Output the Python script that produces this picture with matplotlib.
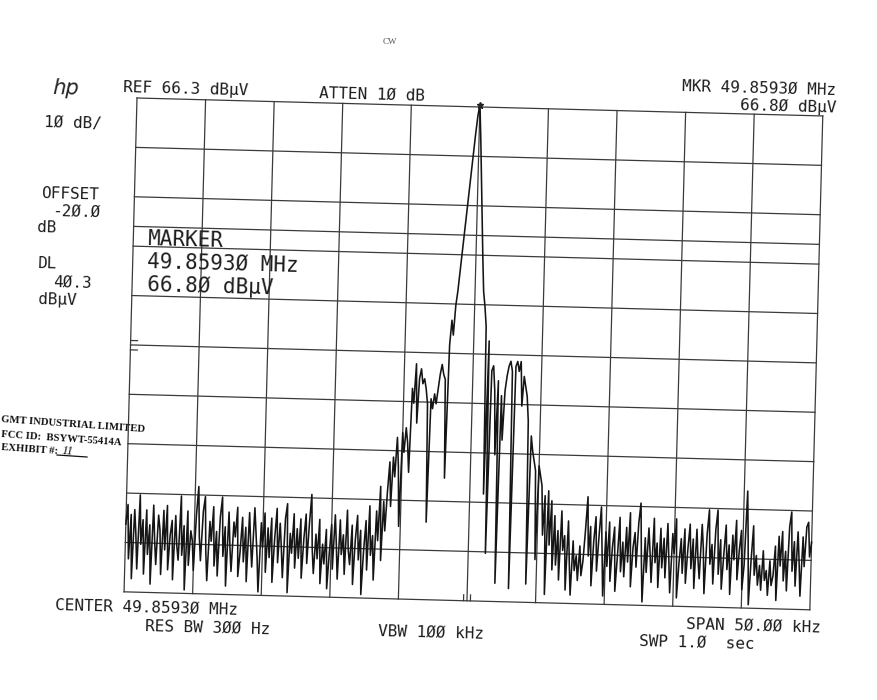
import numpy as np
import matplotlib
matplotlib.use("Agg")
import matplotlib.pyplot as plt
from matplotlib.transforms import Affine2D
from matplotlib.lines import Line2D

# ---------------- data ----------------
center_mhz = 49.85930
span_khz = 50.0
ref_level = 66.3          # dBuV (top graticule line)
db_per_div = 10.0
display_line = 40.3       # DL, dBuV
marker_freq = 49.85930
marker_level = 66.80

# 401-point sweep, offset from center in kHz (-25 ... +25)
n_points = 401
trace_dbuv = [
    -20, -16, -27, -18, -31, -17, -22, -29, -14, -24, -19, -30, -17, -26, -20, -32, -16, -23, -28, -18,
    -21, -30, -17, -25, -16, -29, -22, -19, -31, -18, -24, -27, -14, -26, -20, -33, -17, -28, -21, -23,
    -29, -18, -12, -22, -27, -17, -14, -25, -31, -19, -23, -16, -28, -21, -30, -18, -14, -26, -20, -32,
    -17, -24, -29, -19, -22, -16, -30, -25, -18, -27, -20, -31, -17, -23, -28, -16, -21, -26, -33, -19,
    -24, -17, -29, -20, -26, -18, -31, -22, -16, -27, -19, -24, -30, -18, -15, -33, -21, -25, -17, -28,
    -20, -26, -18, -30, -22, -17, -27, -19, -13, -24, -29, -21, -26, -18, -31, -23, -27, -20, -32, -25,
    -19, -28, -17, -23, -30, -18, -25, -21, -29, -16, -24, -27, -19, -31, -22, -17, -26, -20, -33, -24,
    -18, -28, -15, -25, -21, -30, -16, -22, -11, -26, -14, -20, -12, -6, -15, -5, -9, -1, -7, -19,
    0, -4, 1, -2, -8, 9, 6, 14, 2, 11, 13, 10, 11, 9, 6, -18, 7, 5, 8, 6,
    9, 12, 14, 12, 11, -9, 18, 23, 20, 26, 29, 33, 37, 41, 45, 49, 53, 57, 61, 64.5,
    66.8, 60, 52, 44, 36, 29, 26, 22, -12, 19, -24, 13, 14, 9, -4, 11, -30, 8, -1, 9,
    12, 14, 15, 13, -31, 14, 15, 13, 15, 6, 12, 10, 8, 3, -30, 0, -3, -5, -7, -25,
    -6, -8, -10, -20, -12, -32, -11, -22, -13, -27, -16, -26, -19, -29, -15, -23, -20, -31, -17, -25,
    -32, -21, -27, -24, -29, -22, -28, -25, -19, -12, -24, -18, -30, -21, -16, -27, -20, -14, -23, -32,
    -19, -26, -17, -29, -22, -18, -31, -24, -16, -27, -21, -28, -18, -25, -15, -30, -22, -19, -26, -17,
    -13, -24, -33, -20, -27, -18, -23, -29, -16, -25, -21, -30, -18, -26, -20, -28, -17, -24, -31, -19,
    -23, -16, -32, -25, -20, -27, -18, -29, -22, -17, -26, -20, -30, -18, -24, -28, -17, -22, -31, -19,
    -14, -25, -21, -29, -18, -14, -27, -20, -30, -23, -17, -26, -21, -31, -19, -24, -16, -28, -22, -18,
    -30, -25, -10, -20, -33, -24, -17, -27, -23, -29, -25, -30, -22, -28, -26, -31, -24, -29, -27, -21,
    -32, -19, -25, -18, -28, -22, -30, -17, -14, -26, -20, -29, -18, -24, -31, -19, -25, -17, -16, -23,
    -20,
]

# annotation texts (HP plotter style, slashed zeros)
hdr_ref = "REF 66.3 dBµV"
hdr_atten = "ATTEN 1Ø dB"
hdr_scale = "1Ø dB/"
side_labels = ["OFFSET", "-2Ø.Ø", "dB", "DL", "4Ø.3", "dBµV"]
mkr_top = ["MKR 49.8593Ø MHz", "66.8Ø dBµV"]
mkr_box = ["MARKER", "49.8593Ø MHz", "66.8Ø dBµV"]
bottom_texts = ["CENTER 49.8593Ø MHz", "RES BW 3ØØ Hz", "VBW 1ØØ kHz", "SPAN 5Ø.ØØ kHz", "SWP 1.Ø  sec"]
stamp = ["GMT INDUSTRIAL LIMITED", "FCC ID:  BSYWT-55414A", "EXHIBIT #:"]

# ---------------- figure ----------------
W, H = 877, 700
fig = plt.figure(figsize=(W / 100, H / 100), dpi=100)
fig.patch.set_facecolor("white")

GX0, GY0, GW, GH = 137, 98, 686, 494      # graticule (image px, unrotated)
ax = fig.add_axes([GX0 / W, (H - GY0 - GH) / H, GW / W, GH / H])
half = span_khz / 2
bottom_level = ref_level - 10 * db_per_div
ax.set_xlim(-half, half)
ax.set_ylim(bottom_level, ref_level)
ax.axis("off")

ANG = -1.5  # the scanned sheet is slightly rotated
rot = Affine2D().rotate_deg_around(GX0, H - GY0, ANG)
tr = ax.transData + rot
ca, sa = np.cos(np.radians(ANG)), np.sin(np.radians(ANG))

grid_kw = dict(color="#3a3a3a", lw=0.9, transform=tr, clip_on=False)
for k in range(11):
    f = -half + k * span_khz / 10
    ax.plot([f, f], [bottom_level, ref_level], **grid_kw)
    lv = ref_level - k * db_per_div
    ax.plot([-half, half], [lv, lv], **grid_kw)
# display line
ax.plot([-half, half], [display_line, display_line], **grid_kw)
# small edge ticks
ax.plot([-25, -24.5], [17.2, 17.2], **grid_kw)
ax.plot([-25, -24.5], [15.3, 15.3], **grid_kw)
ax.plot([-0.25, -0.25], [bottom_level, bottom_level + 1.2], **grid_kw)
ax.plot([0.25, 0.25], [bottom_level, bottom_level + 1.2], **grid_kw)

freq = np.linspace(-half, half, n_points)
ax.plot(freq, trace_dbuv, color="#151515", lw=1.15, transform=tr, clip_on=False)
ax.plot([(marker_freq - center_mhz) * 1000], [marker_level], marker="*", ms=5,
        color="#222222", transform=tr, clip_on=False)

MONO = "DejaVu Sans Mono"


def ptext(s, x_left, y_base, pitch, size, ha="center"):
    """Plotter text placed by its left edge/baseline (image px) on the tilted sheet."""
    if ha == "left":
        d = 0.0
    elif ha == "right":
        d = pitch * len(s)
    else:
        d = pitch * len(s) / 2.0
    X = x_left + d * ca
    Y = (H - y_base) + d * sa
    fig.text(X / W, Y / H, s, ha=ha, va="baseline", rotation=ANG,
             rotation_mode="anchor", fontsize=size, family=MONO, color="#1c1c1c")


SM = 11.5
ptext(hdr_ref, 106, 92, 12.3, SM)
ptext(hdr_atten, 304, 97.5, 12.3, SM)
ptext(hdr_scale, 44, 127, 12.0, SM, ha="left")
ptext(side_labels[0], 41, 198, 12.0, SM, ha="left")
ptext(side_labels[1], 52, 216, 12.0, SM, ha="left")
ptext(side_labels[2], 37, 232, 12.0, SM, ha="left")
ptext(side_labels[3], 38, 268, 12.0, SM, ha="left")
ptext(side_labels[4], 53, 287, 11.5, SM, ha="left")
ptext(side_labels[5], 38, 304, 12.0, SM, ha="left")
ptext(mkr_top[0], 638, 90, 12.4, SM, ha="right")
ptext(mkr_top[1], 712, 109, 12.4, SM, ha="right")
LG = 15.0
ptext(mkr_box[0], 147, 245, 16.0, LG, ha="left")
ptext(mkr_box[1], 147, 268, 16.0, LG, ha="left")
ptext(mkr_box[2], 147, 291, 16.0, LG, ha="left")
ptext(bottom_texts[0], 31, 609, 12.2, SM)
ptext(bottom_texts[1], 128, 630, 12.2, SM)
ptext(bottom_texts[2], 365, 635, 12.0, SM)
ptext(bottom_texts[3], 650, 628, 12.2, SM, ha="right")
ptext(bottom_texts[4], 624, 645, 12.2, SM)

# hp logo
fig.text(52 / W, 1 - 95 / H, "hp", fontsize=15, style="italic", family="DejaVu Sans",
         color="#222222", rotation=ANG)

# top caption
fig.text(390 / W, 1 - 44 / H, "CW", fontsize=6.5, family="Liberation Serif",
         color="#555555", ha="center")

# stamp
st_kw = dict(family="Liberation Serif", fontweight="bold", color="#111111",
             rotation=-4, rotation_mode="anchor", ha="left", va="baseline")
fig.text(1 / W, 1 - 422 / H, stamp[0], fontsize=7.7, **st_kw)
fig.text(1 / W, 1 - 437 / H, stamp[1], fontsize=7.7, **st_kw)
fig.text(1 / W, 1 - 450 / H, stamp[2], fontsize=7.7, **st_kw)
fig.text(61 / W, 1 - 455 / H, "11", fontsize=9, family="Liberation Serif",
         style="italic", color="#111111", rotation=-4)
fig.add_artist(Line2D([57 / W, 87 / W], [1 - 455 / H, 1 - 457 / H],
                      color="#111111", lw=0.9))

fig.savefig("out.png", dpi=100, facecolor="white")
